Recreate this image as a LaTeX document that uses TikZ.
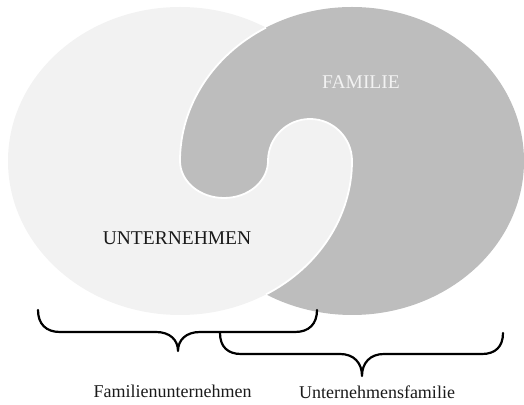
\documentclass[tikz,border=0pt]{standalone}
\usepackage{fontspec}
\setmainfont{Liberation Serif}
\definecolor{lightfill}{HTML}{F2F2F2}
\definecolor{grayfill}{HTML}{BDBDBD}
\definecolor{textdark}{HTML}{1A1A1A}
\tikzset{
  bracepath/.style={draw=black, line width=2.2pt, line cap=round, line join=round},
  swirledge/.style={draw=white, line width=1.8pt},
  biglabel/.style={font=\fontsize{19.5}{22}\selectfont, anchor=base, inner sep=0pt},
  smalllabel/.style={font=\fontsize{18}{21}\selectfont, anchor=base, inner sep=0pt, text=textdark}
}
\begin{document}
\begin{tikzpicture}[x=1pt,y=1pt]
\useasboundingbox (0,0) rectangle (524,404);
% light ellipse (Unternehmen)
\fill[lightfill] (180,243) ellipse [x radius=172pt, y radius=154pt];
% gray swirl region (Familie)
\fill[grayfill] (180,243)
  arc[start angle=180, end angle=-120, x radius=172pt, y radius=154pt]
  arc[start angle=-60, end angle=0, x radius=172pt, y radius=154pt]
  arc[start angle=0, end angle=180, radius=42pt]
  arc[start angle=0, end angle=-180, x radius=44pt, y radius=37pt]
  -- cycle;
% white edge along the swirl
\draw[swirledge] (266,376.37)
  arc[start angle=120, end angle=180, x radius=172pt, y radius=154pt]
  arc[start angle=180, end angle=360, x radius=44pt, y radius=37pt]
  arc[start angle=180, end angle=0, radius=42pt]
  arc[start angle=0, end angle=-60, x radius=172pt, y radius=154pt];
% labels
\node[biglabel, text=textdark] (unt) at (177,159) {UNTERNEHMEN};
\node[biglabel, text=lightfill] (fam) at (361,315) {FAMILIE};
% braces
\draw[bracepath] (38,94) .. controls (38,80) and (46,72) .. (60,72) -- (156,72)
  .. controls (170,72) and (178,64) .. (178,53) .. controls (178,64) and (186,72) .. (200,72)
  -- (295,72) .. controls (309,72) and (317,80) .. (317,94);
\draw[bracepath] (220,71) .. controls (220,57) and (228,50) .. (241,50) -- (340,50)
  .. controls (354,50) and (362,41) .. (362,28) .. controls (362,41) and (370,50) .. (384,50)
  -- (482,50) .. controls (495,50) and (503,57) .. (503,71);
\node[smalllabel] (fu) at (172.5,7) {Familienunternehmen};
\node[smalllabel] (uf) at (377,6) {Unternehmensfamilie};
\end{tikzpicture}
\end{document}
